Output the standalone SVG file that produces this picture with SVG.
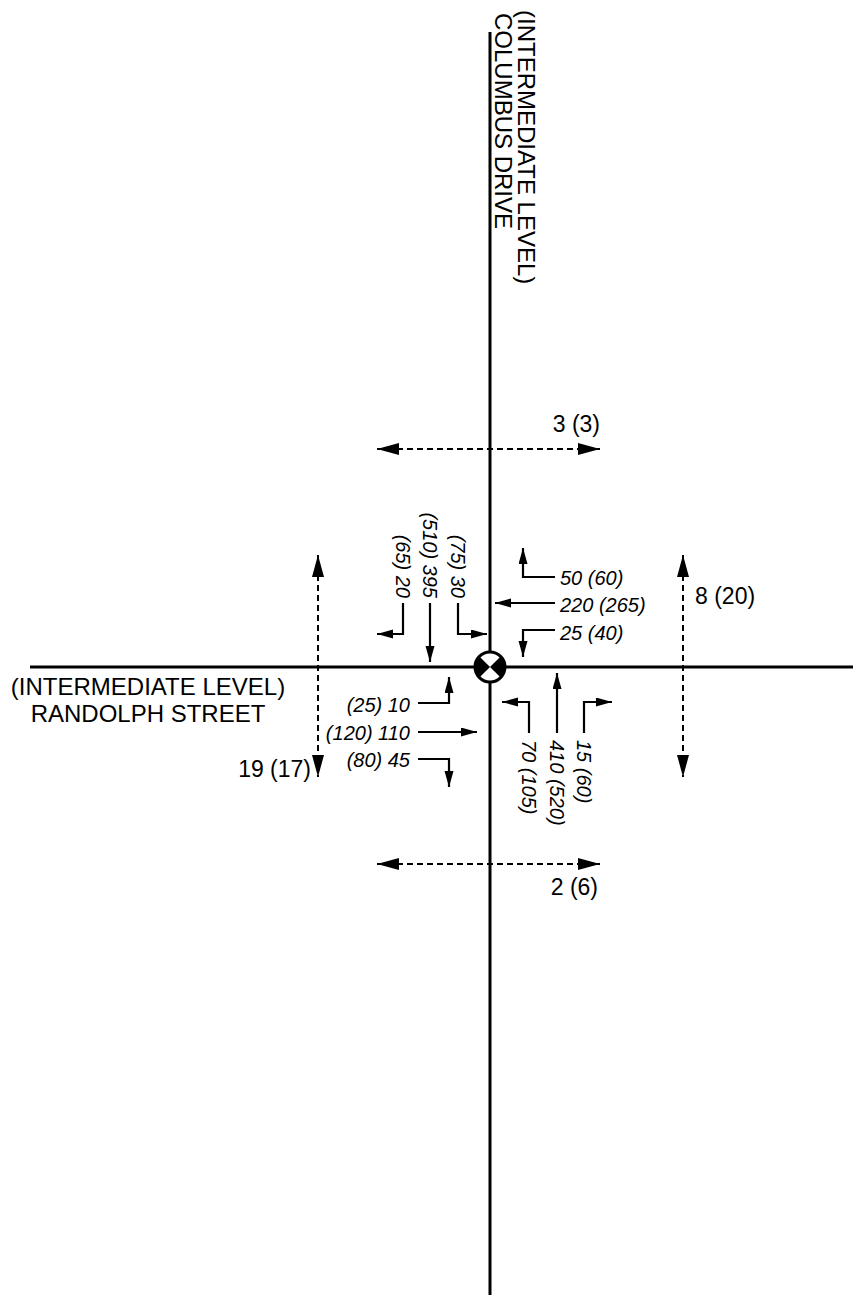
<svg xmlns="http://www.w3.org/2000/svg" width="853" height="1295" viewBox="0 0 853 1295">
<style>
.road{stroke:#000;stroke-width:3;fill:none}
.mv{stroke:#000;stroke-width:2.2;fill:none;marker-end:url(#ah)}
.ped{stroke:#000;stroke-width:2;fill:none;stroke-dasharray:6 4;marker-start:url(#ph);marker-end:url(#ph)}
.lbl{font-family:"Liberation Sans",Arial,sans-serif;font-style:italic;font-size:20px;fill:#000}
.pl{font-family:"Liberation Sans",Arial,sans-serif;font-size:23px;fill:#000}
.rn{font-family:"Liberation Sans",Arial,sans-serif;font-size:24px;fill:#000}
</style>
<defs>
<marker id="ah" markerUnits="userSpaceOnUse" markerWidth="17" markerHeight="10" refX="16" refY="4.5" orient="auto"><path d="M0,0 L16,4.5 L0,9 z" fill="#000"/></marker>
<marker id="ph" markerUnits="userSpaceOnUse" markerWidth="23" markerHeight="13" refX="22" refY="6" orient="auto-start-reverse"><path d="M0,0 L22,6 L0,12 z" fill="#000"/></marker>
</defs>
<g id="roads">
<line class="road" x1="490" y1="32" x2="490" y2="1295"/>
<line class="road" x1="30" y1="667" x2="853" y2="667"/>
</g>
<g id="road-names">
<text class="rn" transform="translate(518,10) rotate(90)">(INTERMEDIATE LEVEL)</text>
<text class="rn" transform="translate(495,13) rotate(90)">COLUMBUS DRIVE</text>
<text class="rn" x="148" y="695" text-anchor="middle">(INTERMEDIATE LEVEL)</text>
<text class="rn" x="148" y="722" text-anchor="middle">RANDOLPH STREET</text>
</g>
<g id="signal">
<circle cx="490" cy="667" r="15" fill="#fff" stroke="#000" stroke-width="3"/>
<path d="M490,667 L479.4,656.4 A15,15 0 0,0 479.4,677.6 Z" fill="#000"/>
<path d="M490,667 L500.6,656.4 A15,15 0 0,1 500.6,677.6 Z" fill="#000"/>
</g>
<g id="connectors">
<path class="mv" d="M403,603 V634 H377"/>
<path class="mv" d="M430,603 V662"/>
<path class="mv" d="M458,603 V634 H487"/>
<path class="mv" d="M555,577 H523 V548"/>
<path class="mv" d="M555,603 H495"/>
<path class="mv" d="M555,630 H523 V657"/>
<path class="mv" d="M529,733 V702 H502"/>
<path class="mv" d="M557,733 V673"/>
<path class="mv" d="M584,733 V702 H612"/>
<path class="mv" d="M418,703 H449 V677"/>
<path class="mv" d="M418,732 H477"/>
<path class="mv" d="M418,759 H449 V787"/>
<path class="ped" d="M377,449 H600"/>
<path class="ped" d="M377,864 H600"/>
<path class="ped" d="M318,555 V777"/>
<path class="ped" d="M683,555 V777"/>
</g>
<g id="north-labels">
<text class="lbl" transform="translate(396,598) rotate(90)" text-anchor="end">(65) 20</text>
<text class="lbl" transform="translate(423,598) rotate(90)" text-anchor="end">(510) 395</text>
<text class="lbl" transform="translate(451,598) rotate(90)" text-anchor="end">(75) 30</text>
</g>
<g id="east-labels">
<text class="lbl" x="560" y="585">50 (60)</text>
<text class="lbl" x="560" y="612">220 (265)</text>
<text class="lbl" x="560" y="640">25 (40)</text>
</g>
<g id="south-labels">
<text class="lbl" transform="translate(522,740) rotate(90)">70 (105)</text>
<text class="lbl" transform="translate(550,740) rotate(90)">410 (520)</text>
<text class="lbl" transform="translate(577,740) rotate(90)">15 (60)</text>
</g>
<g id="west-labels">
<text class="lbl" x="410" y="712" text-anchor="end">(25) 10</text>
<text class="lbl" x="410" y="740" text-anchor="end">(120) 110</text>
<text class="lbl" x="410" y="767" text-anchor="end">(80) 45</text>
</g>
<g id="ped-labels">
<text class="pl" x="600" y="432" text-anchor="end">3 (3)</text>
<text class="pl" x="598" y="895" text-anchor="end">2 (6)</text>
<text class="pl" x="311" y="777" text-anchor="end">19 (17)</text>
<text class="pl" x="695" y="604">8 (20)</text>
</g>
</svg>
